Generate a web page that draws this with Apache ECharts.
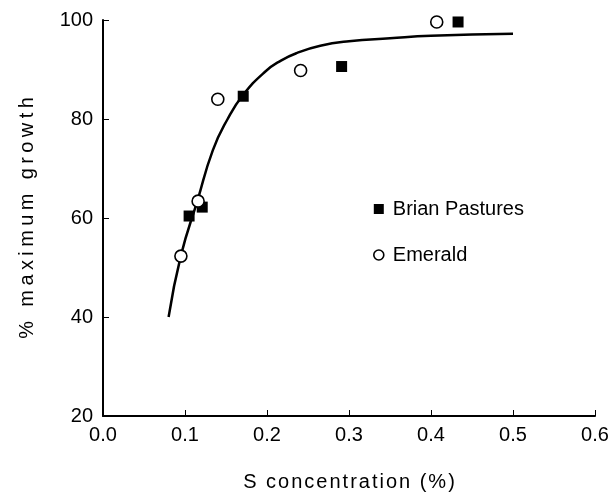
<!DOCTYPE html>
<html>
<head>
<meta charset="utf-8">
<script src="https://cdn.jsdelivr.net/npm/echarts@6/dist/echarts.min.js"></script>
<style>
html,body{margin:0;padding:0;background:#fff;}
#chart{width:613px;height:494px;}
</style>
</head>
<body>
<div id="chart"></div>
<script>
// ---- data ----
var seriesNames = ['Brian Pastures', 'Emerald'];
var brianX = [0.105, 0.121, 0.171, 0.291, 0.433];
var brianY = [60.4, 62.2, 84.6, 90.6, 99.6];
var emeraldX = [0.095, 0.116, 0.140, 0.241, 0.407];
var emeraldY = [52.3, 63.4, 84.0, 89.8, 99.6];
var curveX = [0.080, 0.095, 0.115, 0.134, 0.152, 0.171, 0.198, 0.217, 0.236, 0.265, 0.300, 0.350, 0.400, 0.500];
var curveY = [40.0, 52.4, 63.4, 73.7, 80.0, 84.9, 89.6, 91.8, 93.3, 94.8, 95.7, 96.3, 96.8, 97.2];
var xTickLabels = ['0.0', '0.1', '0.2', '0.3', '0.4', '0.5', '0.6'];
var yTickLabels = ['20', '40', '60', '80', '100'];
var xTitle = 'S concentration (%)';
var yTitle = '% maximum growth';

function zip(xs, ys) { return xs.map(function (x, i) { return [x, ys[i]]; }); }
function spaced(str) {
  return str.split('').map(function (c) { return '{s|' + c + '}'; }).join('');
}

var FONT = '"Liberation Sans", Arial, Helvetica, sans-serif';
var chart = echarts.init(document.getElementById('chart'), null, {renderer: 'canvas'});
chart.setOption({
  backgroundColor: '#ffffff',
  animation: false,
  grid: {left: 103, right: 18, top: 20, bottom: 78, containLabel: false, outerBoundsMode: 'none'},
  legend: {
    orient: 'vertical',
    left: 368,
    top: 194,
    itemWidth: 10,
    itemHeight: 10,
    itemGap: 26,
    textStyle: {fontFamily: FONT, fontSize: 20, color: '#000', lineHeight: 20, padding: [0, 0, 0, 4]},
    data: [
      {name: seriesNames[0], icon: 'rect', itemStyle: {color: '#000', borderWidth: 0}},
      {name: seriesNames[1], icon: 'circle', itemStyle: {color: '#fff', borderColor: '#000', borderWidth: 1.6}}
    ]
  },
  xAxis: {
    type: 'value', min: 0, max: 0.6, interval: 0.1,
    axisLine: {show: true, lineStyle: {color: '#000', width: 2}},
    axisTick: {show: true, inside: true, length: 6, lineStyle: {color: '#000', width: 1}},
    splitLine: {show: false},
    axisLabel: {
      color: '#000', fontFamily: FONT, fontSize: 20, margin: 9,
      formatter: function (v, i) { return xTickLabels[i]; }
    },
    name: spaced(xTitle),
    nameLocation: 'middle',
    nameGap: 56,
    nameTextStyle: {
      rich: {s: {fontFamily: FONT, fontSize: 20, color: '#000', padding: [0, 1, 0, 1]}}
    }
  },
  yAxis: {
    type: 'value', min: 20, max: 100, interval: 20,
    axisLine: {show: true, lineStyle: {color: '#000', width: 2}},
    axisTick: {show: true, inside: true, length: 6, lineStyle: {color: '#000', width: 1}},
    splitLine: {show: false},
    axisLabel: {
      color: '#000', fontFamily: FONT, fontSize: 20, margin: 10,
      formatter: function (v, i) { return yTickLabels[i]; }
    },
    name: spaced(yTitle),
    nameLocation: 'middle',
    nameRotate: 90,
    nameGap: 66,
    nameTextStyle: {
      rich: {s: {fontFamily: FONT, fontSize: 20, color: '#000', padding: [0, 2.2, 0, 2.2]}}
    }
  },
  series: [
    {
      name: 'fit', type: 'line', data: zip(curveX, curveY), smooth: 0.5,
      showSymbol: false, symbol: 'none',
      lineStyle: {color: '#000', width: 2.5}, z: 1, silent: true
    },
    {
      name: seriesNames[0], type: 'scatter', data: zip(brianX, brianY),
      symbol: 'rect', symbolSize: 11,
      itemStyle: {color: '#000', opacity: 1}, z: 3
    },
    {
      name: seriesNames[1], type: 'scatter', data: zip(emeraldX, emeraldY),
      symbol: 'circle', symbolSize: 12,
      itemStyle: {color: '#fff', borderColor: '#000', borderWidth: 1.6, opacity: 1}, z: 4
    }
  ]
});
</script>
</body>
</html>
